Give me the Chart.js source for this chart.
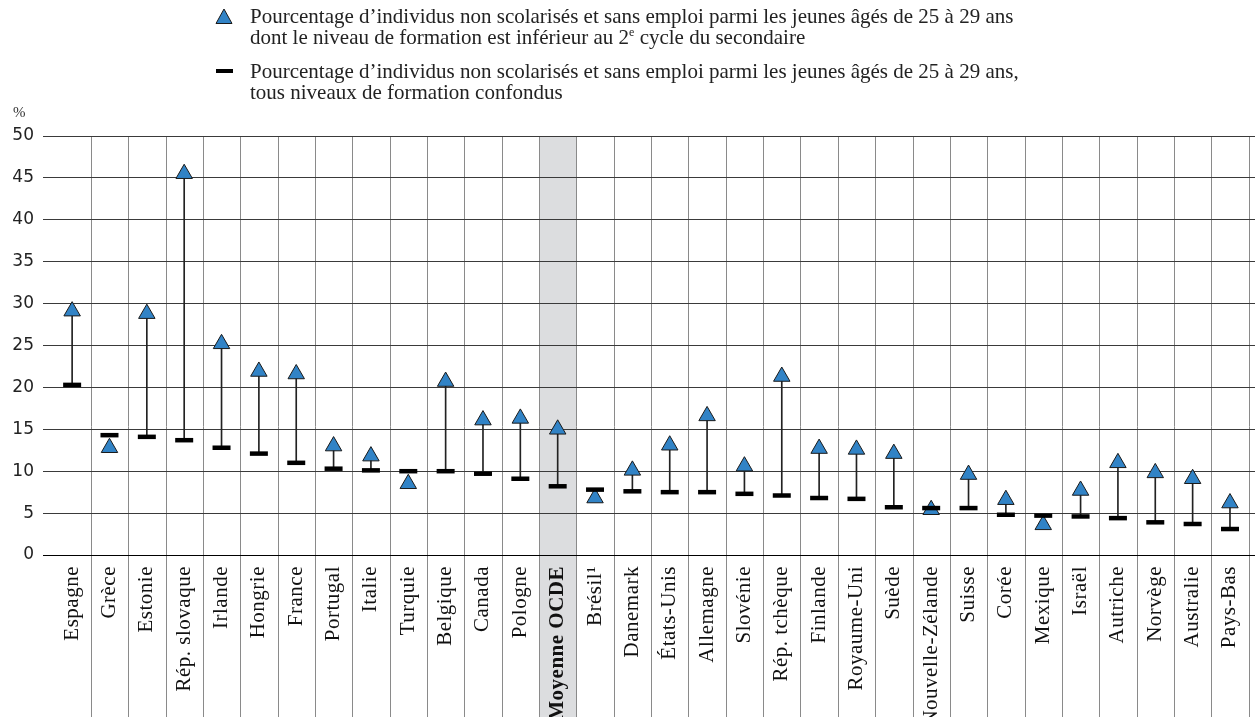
<!DOCTYPE html>
<html>
<head>
<meta charset="utf-8">
<script src="https://cdn.jsdelivr.net/npm/chart.js@4.4.1/dist/chart.umd.min.js"></script>
<style>
  body { margin: 0; background: #fff; }
  #wrap { position: relative; width: 1255px; height: 717px; overflow: hidden; }
  #c { position: absolute; left: 0; top: 0; }
  .leg { position: absolute; font-family: "Liberation Serif", serif; font-size: 21px; line-height: 21px; color: #222; white-space: nowrap; }
  .leg sup { font-size: 12px; vertical-align: 8px; line-height: 0; }
  .icon { position: absolute; }
  #pct { position: absolute; left: 13px; top: 104px; font-family: "Liberation Serif", serif; font-size: 15px; color: #333; }
</style>
</head>
<body>
<div id="wrap">
  <canvas id="c" width="1255" height="717"></canvas>
  <svg class="icon" style="left:215px;top:8px" width="18" height="17"><polygon points="9,1 17,15.5 1,15.5" fill="#3183c6" stroke="#1a1a1a" stroke-width="1"/></svg>
  <div class="leg" style="left:250px;top:6px">Pourcentage d’individus non scolarisés et sans emploi parmi les jeunes âgés de 25 à 29 ans<br>dont le niveau de formation est inférieur au 2<sup>e</sup> cycle du secondaire</div>
  <svg class="icon" style="left:215px;top:68px" width="18" height="8"><rect x="1" y="1" width="17" height="4" fill="#000"/></svg>
  <div class="leg" style="left:250px;top:61px">Pourcentage d’individus non scolarisés et sans emploi parmi les jeunes âgés de 25 à 29 ans,<br>tous niveaux de formation confondus</div>
  <div id="pct">%</div>
</div>
<script>
// countries, in the order of the chart
var countries = ["Espagne", "Grèce", "Estonie", "Rép. slovaque", "Irlande", "Hongrie", "France", "Portugal",
  "Italie", "Turquie", "Belgique", "Canada", "Pologne", "Moyenne OCDE", "Brésil¹", "Danemark", "États-Unis",
  "Allemagne", "Slovénie", "Rép. tchèque", "Finlande", "Royaume-Uni", "Suède", "Nouvelle-Zélande", "Suisse",
  "Corée", "Mexique", "Israël", "Autriche", "Norvège", "Australie", "Pays-Bas"];
var averageName = "Moyenne OCDE";

// below upper secondary (triangles)
var belowUpperSec = [29.1, 12.8, 28.8, 45.5, 25.2, 21.9, 21.6, 13.0, 11.8, 8.5, 20.7, 16.1, 16.3, 15.0, 6.8,
  10.1, 13.1, 16.6, 10.6, 21.3, 12.7, 12.6, 12.1, 5.4, 9.6, 6.6, 3.6, 7.7, 11.0, 9.8, 9.1, 6.2];

// all levels of education (dashes)
var allLevels = [20.3, 14.3, 14.1, 13.7, 12.8, 12.1, 11.0, 10.3, 10.1, 10.0, 10.0, 9.7, 9.1, 8.2, 7.8,
  7.6, 7.5, 7.5, 7.3, 7.1, 6.8, 6.7, 5.7, 5.6, 5.6, 4.8, 4.7, 4.6, 4.4, 3.9, 3.7, 3.1];

var yMin = 0, yMax = 50, yStep = 5;

// linear scale that draws its labels with a bit of letter spacing
class SpacedLinear extends Chart.LinearScale {
  drawLabels(area) {
    var ctx = this.ctx;
    ctx.save();
    ctx.letterSpacing = "0.5px";
    super.drawLabels(area);
    ctx.restore();
  }
}
SpacedLinear.id = "spacedLinear";
SpacedLinear.defaults = Chart.LinearScale.defaults;
Chart.register(SpacedLinear);

var stems = [];
var tri = [];
var dash = [];
for (var i = 0; i < countries.length; i++) {
  if (belowUpperSec[i] > allLevels[i]) stems.push({ x: i, y: [allLevels[i], belowUpperSec[i]] });
  tri.push({ x: i, y: belowUpperSec[i] });
  dash.push({ x: i, y: allLevels[i] });
}

var columns = {
  id: "columns",
  beforeDraw: function (chart) {
    var ctx = chart.ctx, x = chart.scales.x, area = chart.chartArea;
    var bottom = chart.height;
    var avg = countries.indexOf(averageName);
    ctx.save();
    ctx.fillStyle = "#dcdddf";
    var a = x.getPixelForValue(avg - 0.5), b = x.getPixelForValue(avg + 0.5);
    ctx.fillRect(a, area.top, b - a, bottom - area.top);
    ctx.strokeStyle = "#8a8a8a";
    ctx.lineWidth = 1;
    for (var k = 0; k < countries.length; k++) {
      var px = Math.round(x.getPixelForValue(k + 0.5)) + 0.5;
      ctx.beginPath();
      ctx.moveTo(px, area.top);
      ctx.lineTo(px, bottom);
      ctx.stroke();
    }
    ctx.restore();
  }
};

new Chart(document.getElementById("c"), {
  type: "scatter",
  data: {
    datasets: [
      {
        type: "bar",
        data: stems,
        backgroundColor: "#222",
        borderWidth: 0,
        barThickness: 1,
        order: 3
      },
      {
        data: tri,
        pointStyle: "triangle",
        pointRadius: 9.5,
        backgroundColor: "#3183c6",
        borderColor: "#1a1a1a",
        borderWidth: 1,
        order: 2
      },
      {
        data: dash,
        pointStyle: "line",
        pointRadius: 9,
        borderColor: "#000",
        borderWidth: 4.5,
        order: 1
      }
    ]
  },
  options: {
    responsive: false,
    animation: false,
    layout: { autoPadding: false, padding: { top: 136, left: 0, right: 0, bottom: 0 } },
    plugins: { legend: { display: false }, tooltip: { enabled: false } },
    scales: {
      x: {
        type: "spacedLinear",
        offset: false,
        min: -0.78,
        max: 31.67,
        afterBuildTicks: function (scale) {
          scale.ticks = countries.map(function (c, i) { return { value: i }; });
        },
        afterFit: function (scale) {
          scale.height = 162;
          scale.paddingLeft = 0;
          scale.paddingRight = 0;
        },
        grid: { display: false, offset: false },
        border: { display: false },
        ticks: {
          autoSkip: false,
          maxRotation: 90,
          minRotation: 90,
          padding: 3,
          color: "#111",
          font: function (ctx) {
            return { family: "Liberation Serif", size: 21, weight: ctx.index === countries.indexOf(averageName) ? "bold" : "normal" };
          },
          callback: function (v, i) { return countries[i]; }
        }
      },
      y: {
        min: yMin,
        max: yMax,
        afterFit: function (scale) { scale.width = 43; },
        border: { display: false },
        grid: {
          color: function (ctx) { return ctx.tick && ctx.tick.value === 0 ? "#000" : "#3a3a3a"; },
          lineWidth: 1,
          drawTicks: false
        },
        ticks: {
          stepSize: yStep,
          padding: 9,
          color: "#222",
          font: { family: "DejaVu Sans", size: 17 }
        }
      }
    }
  },
  plugins: [columns]
});
</script>
</body>
</html>
